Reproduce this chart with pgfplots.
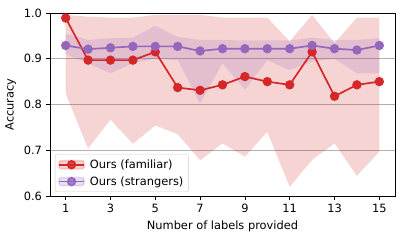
\documentclass[border=0pt]{standalone}
\usepackage{pgfplots}
\pgfplotsset{compat=1.18}
\usepackage{fontspec}
\setmainfont{DejaVu Sans}
\definecolor{tabred}{HTML}{D62728}
\definecolor{tabpurple}{HTML}{9467BD}
\definecolor{gridgray}{HTML}{B0B0B0}
\pgfplotsset{
  redleg/.style={legend image code/.code={\fill[tabred,opacity=0.2] (0pt,-4pt) rectangle (25pt,4pt);
  \draw[mark repeat=2,mark phase=2,##1] plot coordinates {(0pt,0pt)(12.5pt,0pt)(25pt,0pt)};}},
  purpleleg/.style={legend image code/.code={\fill[tabpurple,opacity=0.2] (0pt,-4pt) rectangle (25pt,4pt);
  \draw[mark repeat=2,mark phase=2,##1] plot coordinates {(0pt,0pt)(12.5pt,0pt)(25pt,0pt)};}},
}
\begin{document}
\fontsize{11.4pt}{13pt}\selectfont
\begin{tikzpicture}
\begin{axis}[
  scale only axis,
  width=345pt, height=183pt,
  at={(0,0)}, anchor=south west,
  xmin=0.3, xmax=15.7, ymin=0.6, ymax=1.0,
  xtick={1,3,5,7,9,11,13,15},
  ytick={0.6,0.7,0.8,0.9,1.0},
  yticklabel style={/pgf/number format/.cd,fixed,fixed zerofill,precision=1},
  /pgf/number format/assume math mode=true,
  tick align=outside, tick pos=left,
  major tick length=4pt,
  every tick/.style={black, line width=0.8pt},
  axis line style={line width=0.8pt},
  ymajorgrids,
  grid style={gridgray, line width=0.8pt},
  xlabel={Number of labels provided},
  ylabel={Accuracy},
  tick label style={font=\fontsize{11.4pt}{13pt}\selectfont},
  label style={font=\fontsize{11.4pt}{13pt}\selectfont},
  legend cell align=left,
  legend style={at={(0.0145,0.022)}, anchor=south west, draw=gray!40, rounded corners=2pt, fill=white, fill opacity=0.8, text opacity=1, font=\fontsize{11.4pt}{13pt}\selectfont, row sep=2.5pt, inner xsep=3pt, inner ysep=3pt,
    /tikz/every odd column/.append style={column sep=3pt}},
]
% red band
\addplot[fill=tabred, fill opacity=0.2, draw=none, forget plot] coordinates {
(1,0.996)(2,0.992)(3,0.990)(4,0.990)(5,0.996)(6,0.996)(7,0.996)(8,0.990)(9,0.990)(10,0.990)(11,0.938)(12,0.996)(13,0.934)(14,0.990)(15,0.990)
(15,0.697)(14,0.644)(13,0.715)(12,0.679)(11,0.620)(10,0.740)(9,0.686)(8,0.715)(7,0.678)(6,0.735)(5,0.754)(4,0.714)(3,0.767)(2,0.704)(1,0.824)
} -- cycle;
% purple band
\addplot[fill=tabpurple, fill opacity=0.2, draw=none, forget plot] coordinates {
(1,0.955)(2,0.941)(3,0.945)(4,0.946)(5,0.972)(6,0.948)(7,0.941)(8,0.941)(9,0.940)(10,0.940)(11,0.940)(12,0.946)(13,0.941)(14,0.941)(15,0.945)
(15,0.868)(14,0.868)(13,0.900)(12,0.894)(11,0.875)(10,0.897)(9,0.832)(8,0.890)(7,0.802)(6,0.897)(5,0.900)(4,0.890)(3,0.868)(2,0.890)(1,0.910)
} -- cycle;
\addplot[tabred, line width=1.7pt, mark=*, mark size=3.8pt, redleg]
coordinates {
(1,0.989)(2,0.897)(3,0.897)(4,0.897)(5,0.915)(6,0.837)(7,0.831)(8,0.843)(9,0.861)(10,0.850)(11,0.843)(12,0.915)(13,0.818)(14,0.843)(15,0.850)
};
\addlegendentry{Ours (familiar)}
\addplot[tabpurple, line width=1.7pt, mark=*, mark size=3.8pt, purpleleg]
coordinates {
(1,0.929)(2,0.921)(3,0.924)(4,0.927)(5,0.927)(6,0.927)(7,0.917)(8,0.922)(9,0.922)(10,0.922)(11,0.922)(12,0.929)(13,0.922)(14,0.919)(15,0.929)
};
\addlegendentry{Ours (strangers)}
\end{axis}
\path[use as bounding box] (-50pt,-44pt) rectangle (357pt,196pt);
\end{tikzpicture}
\end{document}
